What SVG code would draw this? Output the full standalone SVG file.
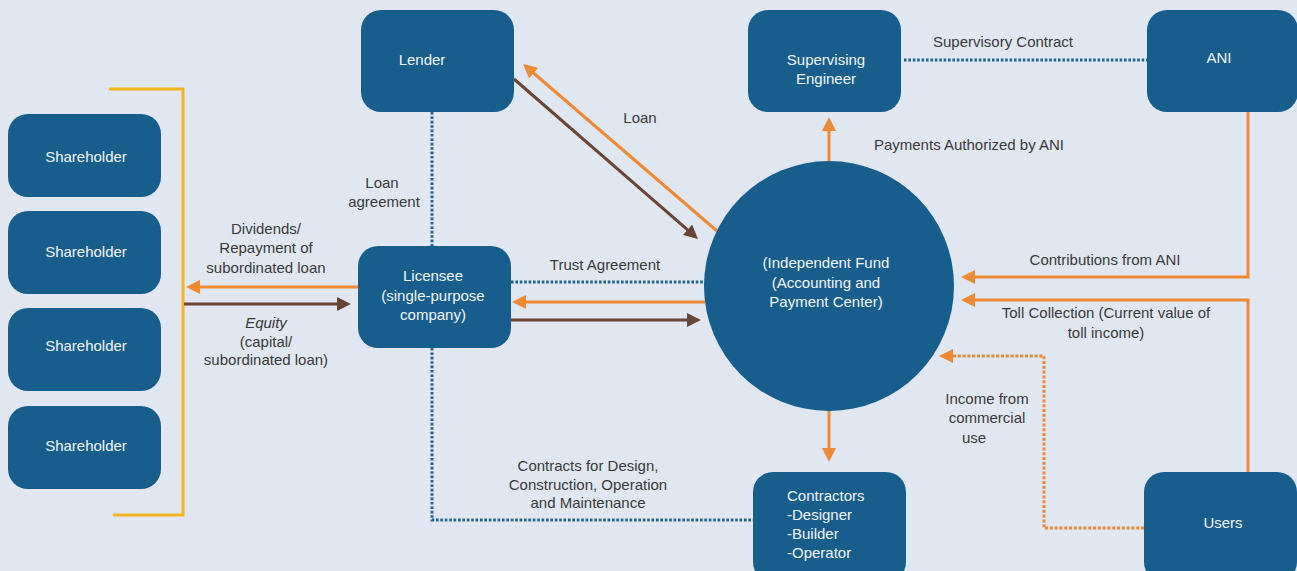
<svg xmlns="http://www.w3.org/2000/svg" width="1297" height="571" viewBox="0 0 1297 571">
<defs>
<style>
.node{fill:#185e8d;}
.nt{fill:#f2f5f9;font-family:"Liberation Sans",Arial,sans-serif;font-size:15px;text-anchor:middle;}
.ntl{fill:#f2f5f9;font-family:"Liberation Sans",Arial,sans-serif;font-size:15px;text-anchor:start;}
.lt{fill:#3a3a3a;font-family:"Liberation Sans",Arial,sans-serif;font-size:15px;text-anchor:middle;}
.or{stroke:#ee8a33;stroke-width:3;fill:none;}
.br{stroke:#6a4536;stroke-width:3;fill:none;}
.bd{stroke:#1f6494;stroke-width:3;fill:none;stroke-dasharray:2.6 1.8;}
.od{stroke:#ee8a33;stroke-width:3;fill:none;stroke-dasharray:3 1.8;}
</style>
<marker id="ao" viewBox="0 0 14 14" refX="4" refY="7" markerWidth="14" markerHeight="14" markerUnits="userSpaceOnUse" orient="auto"><path d="M0,0 L14,7 L0,14 z" fill="#ee8a33"/></marker>
<marker id="ab" viewBox="0 0 14 14" refX="4" refY="7" markerWidth="14" markerHeight="14" markerUnits="userSpaceOnUse" orient="auto"><path d="M0,0 L14,7 L0,14 z" fill="#6a4536"/></marker>
</defs>
<rect width="1297" height="571" fill="#e0e7f1"/>

<g id="connectors">
<path d="M109,89 H183 V515 H113" fill="none" stroke="#f2b41c" stroke-width="3"/>
<path class="or" d="M359,287 H196" marker-end="url(#ao)"/>
<path class="br" d="M184,304 H341" marker-end="url(#ab)"/>
<path class="bd" d="M432,112 V246"/>
<path class="br" d="M514,79 L690.5,232.4" marker-end="url(#ab)"/>
<path class="or" d="M717,231 L530.6,70.5" marker-end="url(#ao)"/>
<path class="bd" d="M511,282 H705"/>
<path class="or" d="M705,302 H522" marker-end="url(#ao)"/>
<path class="br" d="M511,320 H691" marker-end="url(#ab)"/>
<path class="or" d="M829,161 V127" marker-end="url(#ao)"/>
<path class="or" d="M829,411 V452" marker-end="url(#ao)"/>
<path class="bd" d="M904,60 H1147"/>
<path class="or" d="M1248,112 V277 H971" marker-end="url(#ao)"/>
<path class="or" d="M1248,472 V300 H971" marker-end="url(#ao)"/>
<path class="od" d="M1144,528 H1044 V356 H949" marker-end="url(#ao)"/>
<path class="bd" d="M432,348 V520 H753"/>
</g>

<g id="labels">
<text class="lt" x="266" y="234">Dividends/</text>
<text class="lt" x="266" y="253">Repayment of</text>
<text class="lt" x="266" y="273">subordinated loan</text>
<text class="lt" x="266" y="328" font-style="italic">Equity</text>
<text class="lt" x="266" y="347">(capital/</text>
<text class="lt" x="266" y="365">subordinated loan)</text>
<text class="lt" x="382" y="188">Loan</text>
<text class="lt" x="384" y="207">agreement</text>
<text class="lt" x="640" y="123">Loan</text>
<text class="lt" x="605" y="270">Trust Agreement</text>
<text class="lt" x="1003" y="47">Supervisory Contract</text>
<text class="lt" x="969" y="150">Payments Authorized by ANI</text>
<text class="lt" x="1105" y="265">Contributions from ANI</text>
<text class="lt" x="1106" y="318">Toll Collection (Current value of</text>
<text class="lt" x="1106" y="338">toll income)</text>
<text class="lt" x="987" y="404">Income from</text>
<text class="lt" x="987" y="423">commercial</text>
<text class="lt" x="974" y="443">use</text>
<text class="lt" x="588" y="471">Contracts for Design,</text>
<text class="lt" x="588" y="490">Construction, Operation</text>
<text class="lt" x="588" y="508">and Maintenance</text>
</g>

<g id="shareholder1"><rect class="node" x="8" y="114" width="153" height="83" rx="20"/><text class="nt" x="86" y="162">Shareholder</text></g>
<g id="shareholder2"><rect class="node" x="8" y="211" width="153" height="83" rx="20"/><text class="nt" x="86" y="257">Shareholder</text></g>
<g id="shareholder3"><rect class="node" x="8" y="308" width="153" height="83" rx="20"/><text class="nt" x="86" y="351">Shareholder</text></g>
<g id="shareholder4"><rect class="node" x="8" y="406" width="153" height="83" rx="20"/><text class="nt" x="86" y="451">Shareholder</text></g>

<g id="lender"><rect class="node" x="361" y="10" width="153" height="102" rx="20"/><text class="nt" x="422" y="65">Lender</text></g>

<g id="licensee"><rect class="node" x="358" y="246" width="153" height="102" rx="20"/>
<text class="nt" x="433" y="281">Licensee</text>
<text class="nt" x="433" y="301">(single-purpose</text>
<text class="nt" x="433" y="320">company)</text></g>

<g id="fund"><circle class="node" cx="829" cy="286" r="125"/>
<text class="nt" x="826" y="268">(Independent Fund</text>
<text class="nt" x="826" y="288">(Accounting and</text>
<text class="nt" x="826" y="307">Payment Center)</text></g>

<g id="supervising"><rect class="node" x="748" y="10" width="153" height="102" rx="20"/>
<text class="nt" x="826" y="65">Supervising</text>
<text class="nt" x="826" y="84">Engineer</text></g>

<g id="ani"><rect class="node" x="1147" y="10" width="151" height="102" rx="20"/><text class="nt" x="1219" y="63">ANI</text></g>

<g id="contractors"><rect class="node" x="753" y="472" width="153" height="110" rx="20"/>
<text class="ntl" x="787" y="501">Contractors</text>
<text class="ntl" x="787" y="520">-Designer</text>
<text class="ntl" x="787" y="539">-Builder</text>
<text class="ntl" x="787" y="558">-Operator</text></g>

<g id="users"><rect class="node" x="1144" y="472" width="153" height="110" rx="20"/><text class="nt" x="1223" y="528">Users</text></g>
</svg>
